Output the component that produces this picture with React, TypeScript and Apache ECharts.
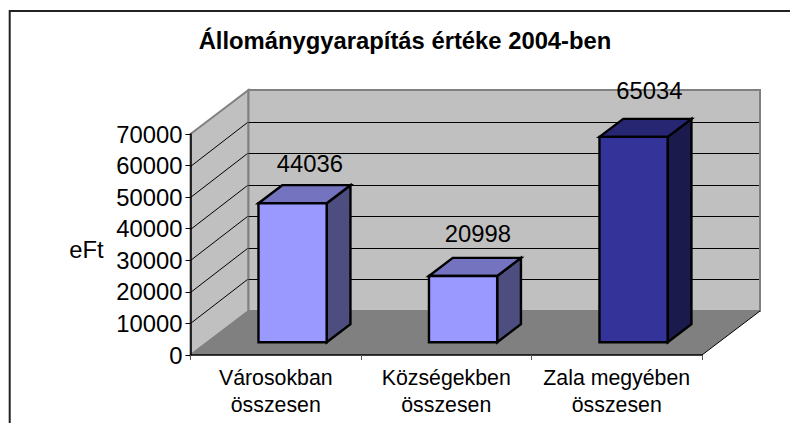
import React, { useEffect, useRef } from "react";
import * as echarts from "echarts";

const categories = ["Városokban\nösszesen", "Községekben\nösszesen", "Zala megyében\nösszesen"];
const values = [44036, 20998, 65034];
const tickValues = [10000, 20000, 30000, 40000, 50000, 60000];
const axisMax = 70000;
const titleText = "Állománygyarapítás értéke 2004-ben";
const axisName = "eFt";

const frontColors = ["#9999ff", "#9999ff", "#333399"];
const topColors = ["#7373bf", "#7373bf", "#262673"];
const sideColors = ["#4d4d80", "#4d4d80", "#1a1a4d"];
const labelLift = [22, 24, 28];
const labelShift = [5.5, 3, 4];

const FONT = "'Liberation Sans', Arial, sans-serif";
const DEPTH_X = 58;
const DEPTH_Y = 44;
const BAR_FRONT = 0.29;
const BAR_BACK = 0.70;
const BAR_WIDTH = 0.4;

export default function App() {
  const ref = useRef<HTMLDivElement>(null);
  useEffect(() => {
    const chart = echarts.init(ref.current!, null, { renderer: "svg" });
    const wallSeries = {
      type: "custom",
      z: 1,
      silent: true,
      data: [[0, axisMax]],
      renderItem: (params: any, api: any) => {
        const c = params.coordSys;
        const left = c.x;
        const right = c.x + c.width;
        const bottom = c.y + c.height;
        const top = c.y;
        const wall = { fill: "#c0c0c0", stroke: "#808080", lineWidth: 2 };
        return {
          type: "group",
          children: [
            { type: "polygon", shape: { points: [[left, top], [left + DEPTH_X, top - DEPTH_Y], [left + DEPTH_X, bottom - DEPTH_Y], [left, bottom]] }, style: wall },
            { type: "polygon", shape: { points: [[left + DEPTH_X, top - DEPTH_Y], [right + DEPTH_X, top - DEPTH_Y], [right + DEPTH_X, bottom - DEPTH_Y], [left + DEPTH_X, bottom - DEPTH_Y]] }, style: wall },
            { type: "polygon", shape: { points: [[left, bottom], [left + DEPTH_X, bottom - DEPTH_Y], [right + DEPTH_X, bottom - DEPTH_Y], [right, bottom]] }, style: { fill: "#808080" } },
            { type: "line", shape: { x1: right, y1: bottom, x2: right + DEPTH_X, y2: bottom - DEPTH_Y }, style: { stroke: "#000", lineWidth: 1 } },
          ],
        };
      },
    };
    const gridSeries = {
      type: "custom",
      z: 2,
      silent: true,
      data: tickValues.map((v) => [0, v]),
      renderItem: (params: any, api: any) => {
        const c = params.coordSys;
        const y = Math.round(api.coord([0, api.value(1)])[1]) + 0.5;
        const line = { stroke: "#000", lineWidth: 1 };
        return {
          type: "group",
          children: [
            { type: "line", shape: { x1: c.x, y1: y, x2: c.x + DEPTH_X - 1, y2: y - DEPTH_Y }, style: line },
            { type: "line", shape: { x1: c.x + DEPTH_X, y1: y - DEPTH_Y, x2: c.x + c.width + DEPTH_X - 1, y2: y - DEPTH_Y }, style: line },
          ],
        };
      },
    };
    const barSeries = {
      type: "custom",
      z: 3,
      silent: true,
      data: values.map((v, i) => [i, v]),
      encode: { x: 0, y: 1 },
      renderItem: (params: any, api: any) => {
        const i = params.dataIndex;
        const band = api.size([1, 0])[0];
        const w = band * BAR_WIDTH;
        const [cx, yTop] = api.coord([api.value(0), api.value(1)]);
        const yBase = api.coord([api.value(0), 0])[1];
        const fx = BAR_FRONT * DEPTH_X;
        const fy = BAR_FRONT * DEPTH_Y;
        const bx = BAR_BACK * DEPTH_X;
        const by = BAR_BACK * DEPTH_Y;
        const x0 = cx - w / 2 + fx;
        const x1 = cx + w / 2 + fx;
        const xb0 = cx - w / 2 + bx;
        const xb1 = cx + w / 2 + bx;
        const stroke = { stroke: "#000", lineWidth: 2.4, lineJoin: "miter" };
        return {
          type: "group",
          children: [
            { type: "polygon", shape: { points: [[x1, yTop - fy], [xb1, yTop - by], [xb1, yBase - by], [x1, yBase - fy]] }, style: { fill: sideColors[i], ...stroke } },
            { type: "polygon", shape: { points: [[x0, yTop - fy], [xb0, yTop - by], [xb1, yTop - by], [x1, yTop - fy]] }, style: { fill: topColors[i], ...stroke } },
            { type: "rect", shape: { x: x0, y: yTop - fy, width: w, height: yBase - yTop }, style: { fill: frontColors[i], ...stroke } },
            {
              type: "text",
              x: (x0 + xb1) / 2 + labelShift[i],
              y: yTop - by - labelLift[i],
              style: { text: String(values[i]), fontFamily: FONT, fontSize: 23.8, fill: "#000", align: "center", verticalAlign: "middle" },
            },
          ],
        };
      },
    };
    chart.setOption({
      animation: false,
      backgroundColor: "#ffffff",
      title: {
        text: titleText,
        left: 400,
        top: 23,
        textAlign: "center",
        textStyle: { fontFamily: FONT, fontSize: 23.8, fontWeight: "bold", color: "#000" },
      },
      grid: { left: 190.5, top: 134, width: 511.5, height: 221, containLabel: false },
      xAxis: {
        type: "category",
        data: categories,
        z: 5,
        axisLine: { lineStyle: { color: "#000", width: 1.5 } },
        axisTick: { show: true, length: 5, lineStyle: { color: "#555" } },
        axisLabel: { fontFamily: FONT, fontSize: 21.3, color: "#000", lineHeight: 27, margin: 9, interval: 0 },
      },
      yAxis: {
        type: "value",
        min: 0,
        max: axisMax,
        interval: 10000,
        z: 5,
        axisLine: { show: true, lineStyle: { color: "#000", width: 1.5 } },
        axisTick: { show: true, length: 5, lineStyle: { color: "#000" } },
        splitLine: { show: false },
        axisLabel: { fontFamily: FONT, fontSize: 23.8, color: "#000", margin: 8, formatter: (v: number) => String(v) },
      },
      graphic: [
        { type: "polyline", z: 10, silent: true, shape: { points: [[9.7, 424], [9.7, 11], [790, 11]] }, style: { fill: "none", stroke: "#222", lineWidth: 2 } },
        { type: "text", z: 10, silent: true, x: 86.5, y: 249, style: { text: axisName, fontFamily: FONT, fontSize: 23.8, fill: "#000", align: "center", verticalAlign: "middle" } },
      ],
      series: [wallSeries, gridSeries, barSeries],
    });
    return () => chart.dispose();
  }, []);
  return <div ref={ref} style={{ position: "absolute", left: 0, top: 0, width: 790, height: 423 }} />;
}
